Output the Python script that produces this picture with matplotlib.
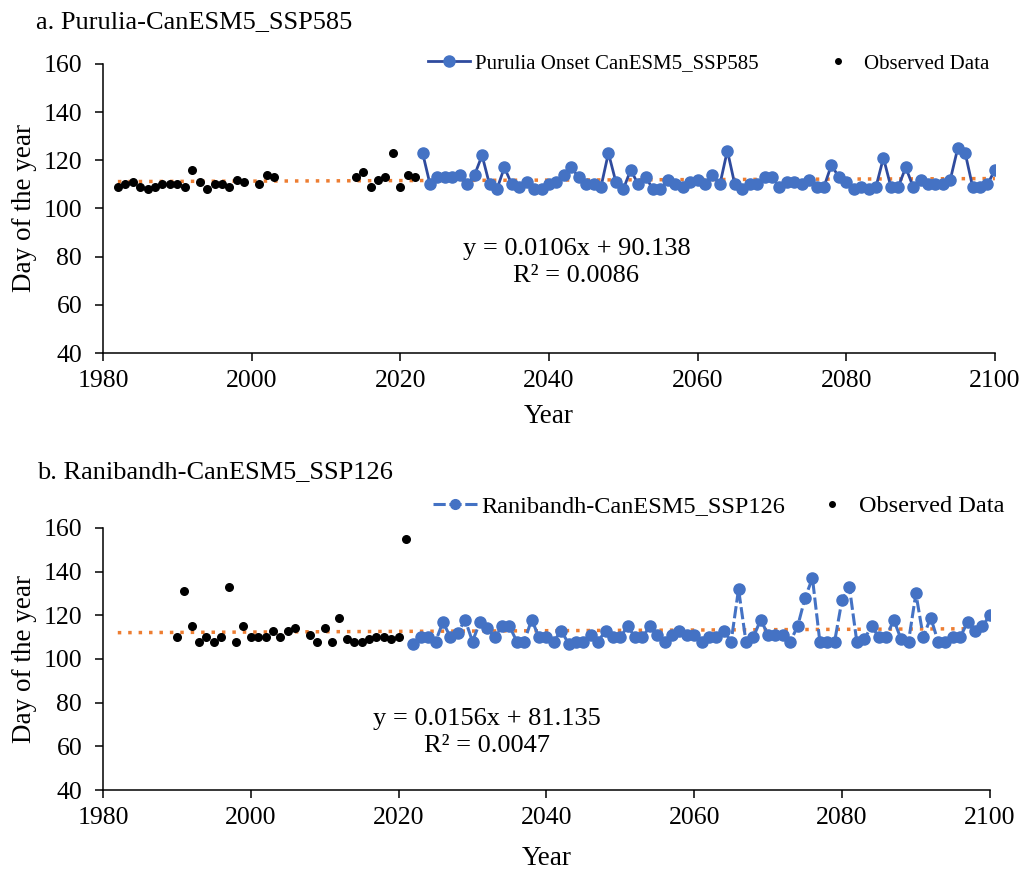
import numpy as np
import matplotlib
matplotlib.use("Agg")
import matplotlib.pyplot as plt
from matplotlib.lines import Line2D

plt.rcParams['font.family'] = ['Liberation Serif', 'DejaVu Serif']

# ---- panel a: Purulia ----
obs_years_a = [1982, 1983, 1984, 1985, 1986, 1987, 1988, 1989, 1990, 1991, 1992,
               1993, 1994, 1995, 1996, 1997, 1998, 1999, 2001, 2002, 2003,
               2014, 2015, 2016, 2017, 2018, 2019, 2020, 2021, 2022]
obs_vals_a = [109, 110, 111, 109, 108, 109, 110, 110, 110, 109, 116,
              111, 108, 110, 110, 109, 112, 111, 110, 114, 113,
              113, 115, 109, 112, 113, 123, 109, 114, 113]

proj_years_a = list(range(2023, 2101))
proj_vals_a = [123, 110, 113, 113, 113, 114, 110, 114, 122, 110,
               108, 117, 110, 109, 111, 108, 108, 110, 111, 114,
               117, 113, 110, 110, 109, 123, 111, 108, 116, 110,
               113, 108, 108, 112, 110, 109, 111, 112, 110, 114,
               110, 124, 110, 108, 110, 110, 113, 113, 109, 111,
               111, 110, 112, 109, 109, 118, 113, 111, 108, 109,
               108, 109, 121, 109, 109, 117, 109, 112, 110, 110,
               110, 112, 125, 123, 109, 109, 110, 116]
slope_a, icpt_a, r2_a = 0.0106, 90.138, 0.0086

# ---- panel b: Ranibandh ----
obs_years_b = [1990, 1991, 1992, 1993, 1994, 1995, 1996, 1997, 1998, 1999, 2000,
               2001, 2002, 2003, 2004, 2005, 2006, 2008, 2009, 2010, 2011,
               2012, 2013, 2014, 2015, 2016, 2017, 2018, 2019, 2020, 2021]
obs_vals_b = [110, 131, 115, 108, 110, 108, 110, 133, 108, 115, 110,
              110, 110, 113, 110, 113, 114, 111, 108, 114, 108,
              119, 109, 108, 108, 109, 110, 110, 109, 110, 155]

proj_years_b = list(range(2022, 2101))
proj_vals_b = [107, 110, 110, 108, 117, 110, 112, 118, 108, 117,
               114, 110, 115, 115, 108, 108, 118, 110, 110, 108,
               113, 107, 108, 108, 111, 108, 113, 110, 110, 115,
               110, 110, 115, 111, 108, 111, 113, 111, 111, 108,
               110, 110, 113, 108, 132, 108, 110, 118, 111, 111,
               111, 108, 115, 128, 137, 108, 108, 108, 127, 133,
               108, 109, 115, 110, 110, 118, 109, 108, 130, 110,
               119, 108, 108, 110, 110, 117, 113, 115, 120]
slope_b, icpt_b, r2_b = 0.0156, 81.135, 0.0047

blue = '#4472C4'
navy = '#2F4B9E'
orange = '#ED7D31'

fig = plt.figure(figsize=(10.24, 8.74), dpi=100)
ax1 = fig.add_axes([0.1006, 0.596, 0.871, 0.331])
ax2 = fig.add_axes([0.1006, 0.0961, 0.866, 0.2998])


def style(ax, xlab_y):
    ax.set_xlim(1980, 2100)
    ax.set_ylim(40, 160)
    ax.set_xticks(range(1980, 2101, 20))
    ax.set_yticks(range(40, 161, 20))
    for s in ['top', 'right']:
        ax.spines[s].set_visible(False)
    for s in ['left', 'bottom']:
        ax.spines[s].set_linewidth(1.1)
    ax.tick_params(direction='out', length=6, width=1.1, labelsize=18.5)
    ax.tick_params(axis='x', pad=6)
    ax.tick_params(axis='y', pad=9)
    ax.set_xlabel('Year', fontsize=19.5, va='center')
    ax.set_ylabel('Day of the year', fontsize=19.5, va='center')
    ax.xaxis.set_label_coords(0.5, xlab_y)
    ax.yaxis.set_label_coords(-0.088, 0.5)


# panel a
style(ax1, -0.22)
tx = np.array([1982, 2100])
ax1.plot(tx, slope_a * tx + icpt_a, color=orange, lw=2.5, ls=(0, (1, 2)), zorder=1)
ax1.plot(proj_years_a, proj_vals_a, color=navy, lw=2, marker='o', ms=8,
         mfc=blue, mec=blue, zorder=3)
ax1.scatter(obs_years_a, obs_vals_a, s=30, color='black', zorder=4)
ax1.text(2043.7, 77.5, 'y = 0.0106x + 90.138\nR² = 0.0086', ha='center', va='center',
         fontsize=19, linespacing=1.3)
h1 = [Line2D([], [], color=navy, lw=2, marker='o', ms=8, mfc=blue, mec=blue),
      Line2D([], [], ls='none', marker='o', ms=4, color='black')]
fig.legend(h1, ['Purulia Onset CanESM5_SSP585', 'Observed Data'], ncol=2,
           loc='center left', bbox_to_anchor=(0.418, 0.927), frameon=False,
           borderpad=0, borderaxespad=0,
           fontsize=15, columnspacing=2.8, handlelength=2.0, handletextpad=0.25)
fig.text(0.035, 0.975, 'a. Purulia-CanESM5_SSP585', fontsize=19, va='center')

# panel b
style(ax2, -0.26)
tx = np.array([1982, 2100])
ax2.plot(tx, slope_b * tx + icpt_b, color=orange, lw=2.5, ls=(0, (1, 2)), zorder=1)
ax2.plot(proj_years_b, proj_vals_b, color=blue, lw=2.2, ls=(0, (4, 1.2)),
         marker='o', ms=8, mfc=blue, mec=blue, zorder=3)
ax2.scatter(obs_years_b, obs_vals_b, s=30, color='black', zorder=4)
ax2.text(2032, 66.5, 'y = 0.0156x + 81.135\nR² = 0.0047', ha='center', va='center',
         fontsize=19, linespacing=1.3)
h2 = [Line2D([], [], color=blue, lw=2.2, ls=(0, (4, 1.2)), marker='o', ms=7,
             mfc=blue, mec=blue),
      Line2D([], [], ls='none', marker='o', ms=4, color='black')]
fig.legend(h2, ['Ranibandh-CanESM5_SSP126', 'Observed Data'], ncol=2,
           loc='center left', bbox_to_anchor=(0.423, 0.421), frameon=False,
           borderpad=0, borderaxespad=0,
           fontsize=17.5, columnspacing=1.0, handlelength=1.8, handletextpad=0.2)
fig.text(0.036, 0.46, 'b. Ranibandh-CanESM5_SSP126', fontsize=19, va='center')

fig.savefig('out.png', dpi=100)
